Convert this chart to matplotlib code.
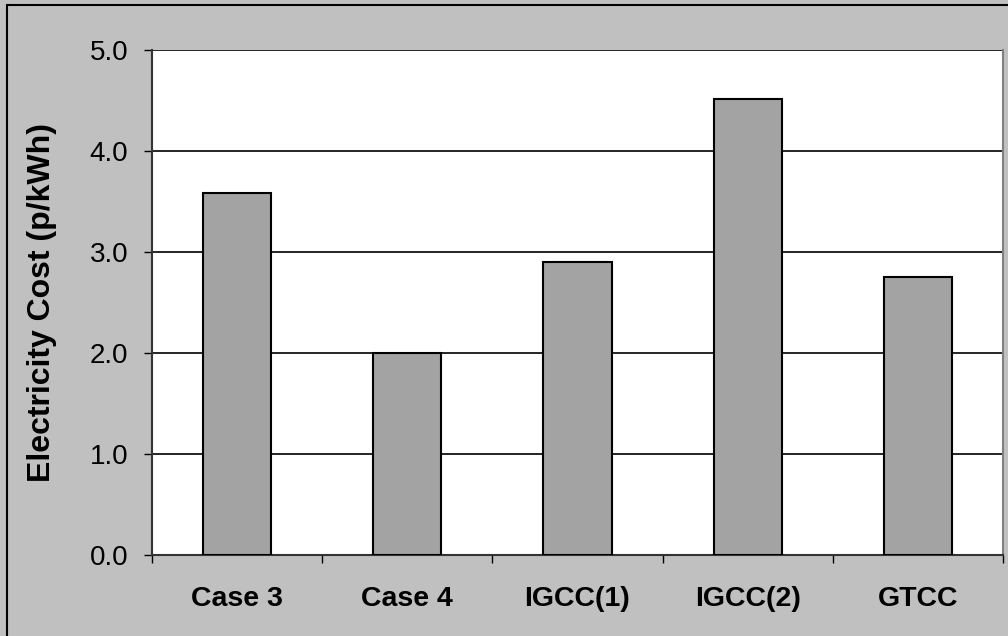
import matplotlib
matplotlib.use("Agg")
import matplotlib.pyplot as plt
from matplotlib.patches import Rectangle

categories = ["Case 3", "Case 4", "IGCC(1)", "IGCC(2)", "GTCC"]
costs = [3.58, 2.00, 2.90, 4.51, 2.75]
y_ticks = [0.0, 1.0, 2.0, 3.0, 4.0, 5.0]

plt.rcParams["font.family"] = ["Liberation Sans", "DejaVu Sans"]

fig = plt.figure(figsize=(10.08, 6.36), dpi=100, facecolor="#C0C0C0")
ax = fig.add_axes([152 / 1008, 1 - 555 / 636, (1003 - 152) / 1008, (555 - 50) / 636])
ax.set_facecolor("white")

# figure border (only top and left are inside the frame)
fig.patches.append(Rectangle((7 / 1008, -0.1), 1.2, 1.1 - 5 / 636, transform=fig.transFigure,
                             fill=False, edgecolor="black", linewidth=1.5, zorder=0))

xpos = list(range(len(categories)))
ax.bar(xpos, costs, width=0.4, color="#A3A3A3", edgecolor="black", linewidth=1.5, zorder=3)

ax.set_xlim(-0.5, len(categories) - 0.5)
ax.set_ylim(0, 5)
ax.set_yticks(y_ticks)
ax.set_yticklabels([f"{v:.1f}" for v in y_ticks], fontsize=20)
ax.yaxis.grid(True, color="black", linewidth=1.2, zorder=1)
ax.tick_params(axis="y", length=6, width=1, direction="out", pad=11)

ax.set_xticks(xpos)
ax.set_xticklabels(categories, fontsize=20.5, fontweight="bold")
ax.set_xticks([i - 0.5 for i in range(len(categories) + 1)], minor=True)
ax.tick_params(axis="x", which="major", length=0, pad=22)
ax.tick_params(axis="x", which="minor", length=6, width=1, direction="out")

ax.set_ylabel("Electricity Cost (p/kWh)", fontsize=23, fontweight="bold")
ax.yaxis.set_label_coords(-(152 - 57) / 851, 0.5)

ax.spines["top"].set_visible(False)
ax.spines["left"].set_color("#333333")
ax.spines["left"].set_linewidth(1.5)
ax.spines["bottom"].set_color("#333333")
ax.spines["bottom"].set_linewidth(1.5)
ax.spines["right"].set_color("#808080")
ax.spines["right"].set_linewidth(1.5)

fig.savefig("out.png", dpi=100, facecolor=fig.get_facecolor())
